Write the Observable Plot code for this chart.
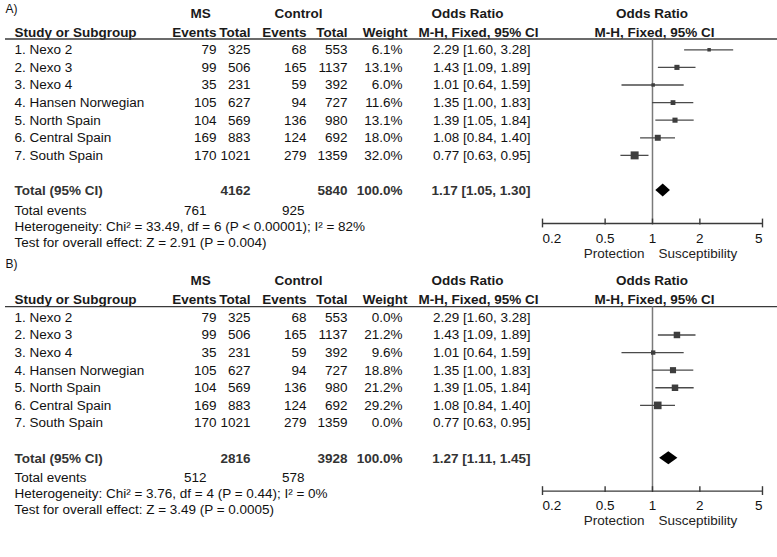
<!DOCTYPE html>
<html>
<head>
<meta charset="utf-8">
<script src="https://cdn.jsdelivr.net/npm/d3@7"></script>
<script src="https://cdn.jsdelivr.net/npm/@observablehq/plot@0.6"></script>
<style>
  body { margin: 0; background: #fff; }
  #chart { position: relative; width: 777px; height: 557px; overflow: hidden; background: #fff; }
  .panel { position: absolute; left: 0; }
</style>
</head>
<body>
<div id="chart"></div>
<script>
// ---- Data ----
const studies = ["1. Nexo 2", "2. Nexo 3", "3. Nexo 4", "4. Hansen Norwegian", "5. North Spain", "6. Central Spain", "7. South Spain"];
const msEvents = [79, 99, 35, 105, 104, 169, 170];
const msTotal = [325, 506, 231, 627, 569, 883, 1021];
const ctrlEvents = [68, 165, 59, 94, 136, 124, 279];
const ctrlTotal = [553, 1137, 392, 727, 980, 692, 1359];
const orEst = [2.29, 1.43, 1.01, 1.35, 1.39, 1.08, 0.77];
const orLow = [1.60, 1.09, 0.64, 1.00, 1.05, 0.84, 0.63];
const orHigh = [3.28, 1.89, 1.59, 1.83, 1.84, 1.40, 0.95];
const weightA = [6.1, 13.1, 6.0, 11.6, 13.1, 18.0, 32.0];
const weightB = [0.0, 21.2, 9.6, 18.8, 21.2, 29.2, 0.0];

const panelLabels = ["A)", "B)"];
const totalMs = [4162, 2816];
const totalCtrl = [5840, 3928];
const totalWeight = [100.0, 100.0];
const totalOR = [1.17, 1.27];
const totalLow = [1.05, 1.11];
const totalHigh = [1.30, 1.45];
const totalEventsMs = [761, 512];
const totalEventsCtrl = [925, 578];
const heterogeneity = [
  "Heterogeneity: Chi² = 33.49, df = 6 (P < 0.00001); I² = 82%",
  "Heterogeneity: Chi² = 3.76, df = 4 (P = 0.44); I² = 0%"
];
const overallTest = [
  "Test for overall effect: Z = 2.91 (P = 0.004)",
  "Test for overall effect: Z = 3.49 (P = 0.0005)"
];
const axisTicks = [0.2, 0.5, 1, 2, 5];
const sideLabels = ["Protection", "Susceptibility"];

// ---- Layout (row positions in row units, columns in px) ----
const ROW = 17.6;
const fmt2 = v => v.toFixed(2);
const orText = (e, l, h) => `${fmt2(e)} [${fmt2(l)}, ${fmt2(h)}]`;

function panel(k) {
  const weights = k === 0 ? weightA : weightB;
  const rows = studies.map((s, i) => ({
    i, s, me: msEvents[i], mt: msTotal[i], ce: ctrlEvents[i], ct: ctrlTotal[i],
    w: weights[i], est: orEst[i], lo: orLow[i], hi: orHigh[i]
  }));
  const shown = rows.filter(d => d.w > 0);
  const R = {label: k === 0 ? -2.29 : -3.0, h1: -2.06, h2: -0.98, line: -0.61, total: 8,
             events: 9.13, het: 10.04, test: 10.95, axis: 9.87, ticks: 10.72, side: 11.57};
  const top = k === 0 ? -2.8 : -3.8, bottom = 12.4;
  const height = (bottom - top) * ROW;
  const dH = 0.37;
  const diamond = [
    {x: totalLow[k], y1: R.total, y2: R.total},
    {x: totalOR[k], y1: R.total - dH, y2: R.total + dH},
    {x: totalHigh[k], y1: R.total, y2: R.total}
  ];
  const hdr = "#1a1a1a", txt = "#111", tot = "#333";
  const lbl = (t, dx, y, anchor, o = {}) =>
    Plot.text([String(t)], {text: d => d, y: () => y, frameAnchor: "left", dx, textAnchor: anchor, fill: txt, ...o});
  const col = (fn, dx, anchor, o = {}) =>
    Plot.text(rows, {text: d => String(fn(d)), y: "i", frameAnchor: "left", dx, textAnchor: anchor, fill: txt, ...o});
  const B = {fontWeight: "bold", fill: hdr};
  const T = {fontWeight: "bold", fill: tot};
  const mids = axisTicks.slice(1, -1);
  const ends = [axisTicks[0], axisTicks[axisTicks.length - 1]];

  return Plot.plot({
    width: 777,
    height,
    margin: 0,
    x: {type: "log", domain: [0.2, 5], range: [542, 762], axis: null},
    y: {domain: [top, bottom], range: [0, height], axis: null},
    r: {type: "sqrt", domain: [0, 32], range: [0, 4.5]},
    style: {fontFamily: "'Liberation Sans', Arial, Helvetica, sans-serif", fontSize: "13.5px", background: "transparent", overflow: "visible"},
    marks: [
      // panel label
      lbl(panelLabels[k], 5, R.label, "start", {fontSize: 12}),
      // headers
      lbl("MS", 200, R.h1, "middle", B),
      lbl("Control", 298, R.h1, "middle", B),
      lbl("Odds Ratio", 467, R.h1, "middle", B),
      Plot.text(["Odds Ratio"], {text: d => d, x: () => 1, y: () => R.h1, dx: -0.5, textAnchor: "middle", fontWeight: "bold", fill: hdr}),
      lbl("Study or Subgroup", 14, R.h2, "start", B),
      lbl("Events", 216, R.h2, "end", B),
      lbl("Total", 250, R.h2, "end", B),
      lbl("Events", 306, R.h2, "end", B),
      lbl("Total", 347, R.h2, "end", B),
      lbl("Weight", 407, R.h2, "end", B),
      lbl("M-H, Fixed, 95% CI", 478, R.h2, "middle", B),
      Plot.text(["M-H, Fixed, 95% CI"], {text: d => d, x: () => 1, y: () => R.h2, dx: 2, textAnchor: "middle", fontWeight: "bold", fill: hdr}),
      Plot.ruleY([R.line], {y: d => d, insetLeft: 5, stroke: "#3a3a3a", strokeWidth: 1.4}),
      // study rows
      col(d => d.s, 14, "start"),
      col(d => d.me, 216, "end"),
      col(d => d.mt, 250, "end"),
      col(d => d.ce, 306, "end"),
      col(d => d.ct, 347, "end"),
      col(d => d.w.toFixed(1) + "%", 402, "end"),
      col(d => orText(d.est, d.lo, d.hi), 530, "end"),
      // totals
      lbl("Total (95% CI)", 14, R.total, "start", T),
      lbl(totalMs[k], 250, R.total, "end", T),
      lbl(totalCtrl[k], 347, R.total, "end", T),
      lbl(totalWeight[k].toFixed(1) + "%", 402, R.total, "end", T),
      lbl(orText(totalOR[k], totalLow[k], totalHigh[k]), 530, R.total, "end", T),
      lbl("Total events", 14, R.events, "start"),
      lbl(totalEventsMs[k], 206, R.events, "end"),
      lbl(totalEventsCtrl[k], 304, R.events, "end"),
      lbl(heterogeneity[k], 14, R.het, "start"),
      lbl(overallTest[k], 14, R.test, "start"),
      // forest: line of no effect
      Plot.ruleX([1], {x: d => d, y1: () => R.line, y2: () => R.axis, stroke: "#7a7a7a", strokeWidth: 1.5}),
      // CIs and squares
      Plot.ruleY(shown, {y: "i", x1: "lo", x2: "hi", stroke: "#4a4a4a", strokeWidth: 1.3}),
      Plot.dot(shown, {x: "est", y: "i", r: "w", symbol: "square", fill: "#3d3d3d", stroke: "none"}),
      // pooled diamond
      Plot.area(diamond, {x1: "x", y1: "y1", y2: "y2", fill: "#000"}),
      // axis
      Plot.ruleY([R.axis], {y: d => d, x1: () => axisTicks[0], x2: () => axisTicks[axisTicks.length - 1], stroke: "#3a3a3a", strokeWidth: 1.4}),
      Plot.ruleX(ends, {x: d => d, y1: () => R.axis - 0.25, y2: () => R.axis + 0.25, stroke: "#3a3a3a", strokeWidth: 1.4}),
      Plot.ruleX(mids, {x: d => d, y1: () => R.axis - 0.25, y2: () => R.axis + 0.08, stroke: "#3a3a3a", strokeWidth: 1.4}),
      Plot.text([axisTicks[0]], {x: d => d, y: () => R.ticks, text: d => String(d), textAnchor: "start", fill: txt}),
      Plot.text(mids, {x: d => d, y: () => R.ticks, text: d => String(d), textAnchor: "middle", fill: txt}),
      Plot.text([axisTicks[axisTicks.length - 1]], {x: d => d, y: () => R.ticks, text: d => String(d), textAnchor: "end", fill: txt}),
      Plot.text([sideLabels[0]], {x: () => 1, y: () => R.side, text: d => d, textAnchor: "end", dx: -8, fill: "#222"}),
      Plot.text([sideLabels[1]], {x: () => 1, y: () => R.side, text: d => d, textAnchor: "start", dx: 6, fill: "#222"})
    ]
  });
}

const chart = document.getElementById("chart");
const tops = [0, 268 - ROW];
[0, 1].forEach(k => {
  const div = document.createElement("div");
  div.className = "panel";
  div.style.top = tops[k] + "px";
  div.appendChild(panel(k));
  chart.appendChild(div);
});
</script>
</body>
</html>
